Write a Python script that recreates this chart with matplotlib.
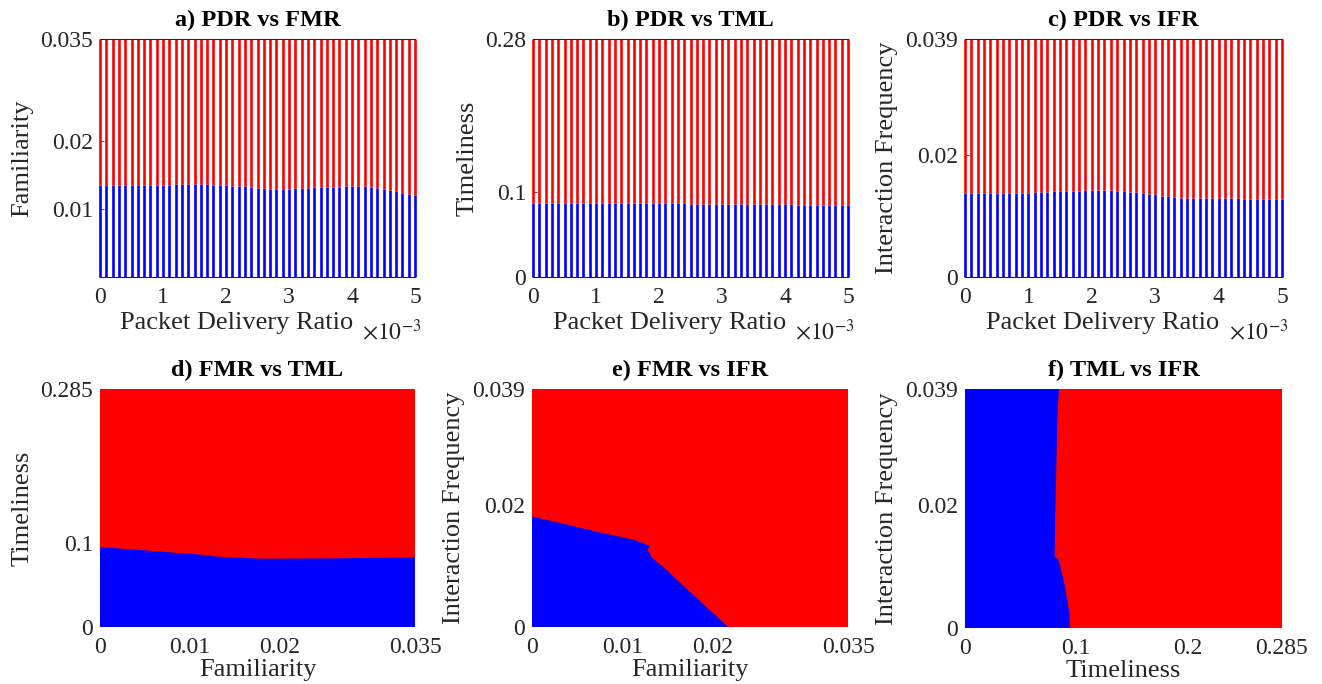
import numpy as np
import matplotlib.pyplot as plt
from matplotlib.ticker import FuncFormatter

plt.rcParams['font.family'] = ['Liberation Serif', 'DejaVu Serif']
plt.rcParams['mathtext.fontset'] = 'stix'

BLUE = '#0000ff'
RED = '#ff0000'
TXT = '#262626'

# --- top row: packet delivery ratio sweep (51 samples) ---
pdr = np.linspace(0, 0.005, 51)

fmr_bound = [0.01353] * 12 + [0.01368] * 6 + [
    0.01353, 0.01353, 0.01348, 0.01343, 0.01338, 0.01338, 0.01328, 0.01314,
    0.01309, 0.01294, 0.01294, 0.01294, 0.01294, 0.01309, 0.01309, 0.01309,
    0.01319, 0.01319, 0.01324, 0.01328, 0.01328, 0.01333, 0.01338, 0.01338,
    0.01338, 0.01319, 0.01309, 0.01289, 0.01279, 0.01260, 0.01240, 0.01225,
    0.01206]

tml_bound = [0.08764] * 8 + [0.08724] * 8 + [0.08685] * 9 + [0.08646] * 6 + \
    [0.08607] * 6 + [0.08568] * 5 + [0.08529] * 5 + [0.0849] * 4

ifr_bound = [0.01382] * 11 + [
    0.01393, 0.01393, 0.01393, 0.01404, 0.01410, 0.01410, 0.01410, 0.01415,
    0.01421, 0.01421, 0.01426, 0.01421, 0.01421, 0.01415, 0.01404, 0.01399,
    0.01399, 0.01382, 0.01366, 0.01360, 0.01333, 0.01327, 0.01305, 0.01295,
    0.01295, 0.01295, 0.01295, 0.01295, 0.01289, 0.01289, 0.01289, 0.01289,
    0.01289, 0.01284, 0.01284, 0.01284, 0.01284, 0.01284, 0.01284, 0.01284]

fmr_max = 0.035
tml_max = 0.28
ifr_max = 0.039

# --- bottom row: decision boundaries ---
d_x = [0, 0.01222, 0.01259, 0.01778, 0.01963, 0.02593, 0.035]
d_y = [0.0958, 0.0858, 0.0846, 0.0818, 0.0818, 0.0822, 0.0834]
d_xmax, d_ymax = 0.035, 0.285

e_x = [0, 0.00784, 0.0108, 0.01117, 0.01302, 0.01283, 0.0131, 0.01321, 0.0145, 0.02171]
e_y = [0.01812, 0.01539, 0.01445, 0.0144, 0.0133, 0.01264, 0.01181, 0.01143, 0.00989, 0]
e_xmax, e_ymax = 0.035, 0.039

f_x = [0.0845, 0.0830, 0.0812, 0.0806, 0.0839, 0.0854, 0.0899, 0.0938, 0.0944]
f_y = [0.039, 0.0340, 0.01877, 0.01168, 0.01115, 0.01033, 0.00679, 0.00245, 0]
f_xmax, f_ymax = 0.285, 0.039

fig = plt.figure(figsize=(13.22, 6.84), dpi=100)
W, H = 1322, 684


def make_ax(x0, y0, x1, y1):
    return fig.add_axes([x0 / W, 1 - y1 / H, (x1 - x0) / W, (y1 - y0) / H])


def style(ax, title, xlabel, ylabel):
    ax.set_title(title, fontsize=17.5, fontweight='bold', pad=9, color='black')
    ax.set_xlabel(xlabel, fontsize=19, color=TXT, labelpad=1)
    ax.set_ylabel(ylabel, fontsize=19, color=TXT, labelpad=5)
    ax.tick_params(labelsize=17, colors=TXT, direction='in', length=3, width=0.6)
    ax.tick_params(axis='x', pad=7)
    ax.tick_params(axis='y', pad=5)


def top_panel(ax, bound, ymax, yticks, ylabels, title, ylabel):
    bound = np.array(bound)
    ax.vlines(pdr, 0, bound, color=BLUE, lw=1.9, clip_on=False, zorder=3)
    ax.vlines(pdr, bound, ymax, color=RED, lw=1.9, clip_on=False, zorder=3)
    ax.set_xlim(0, 0.005)
    ax.set_ylim(0, ymax)
    ax.set_xticks([0, 0.001, 0.002, 0.003, 0.004, 0.005])
    ax.xaxis.set_major_formatter(FuncFormatter(lambda v, p: '%g' % round(v * 1000, 3)))
    ax.set_yticks(yticks)
    ax.set_yticklabels(ylabels)
    for side, s in ax.spines.items():
        s.set_color(TXT)
        s.set_linewidth(0.8)
        s.set_zorder(4)
        if side in ('left', 'right'):
            s.set_visible(False)
    style(ax, title, 'Packet Delivery Ratio', ylabel)
    ax.xaxis.set_label_coords(0.435, -0.145, transform=ax.transAxes)
    ax.xaxis.label.set_va('top')
    ax.text(1.02, -0.175, r'$\times10^{-3}$', transform=ax.transAxes, fontsize=17,
            color=TXT, ha='right', va='top')


def bottom_panel(ax, bx, by, xmax, ymax, xticks, xlabels, yticks, ylabels,
                 title, xlabel, ylabel, vertical=False):
    ax.set_facecolor(RED)
    if vertical:
        ax.fill(list(bx) + [0, 0], list(by) + [0, ymax], color=BLUE, lw=0)
    else:
        ax.fill(list(bx) + [bx[-1], 0], list(by) + [0, 0], color=BLUE, lw=0)
    ax.set_xlim(0, xmax)
    ax.set_ylim(0, ymax)
    ax.set_xticks(xticks)
    ax.set_xticklabels(xlabels)
    ax.set_yticks(yticks)
    ax.set_yticklabels(ylabels)
    for s in ax.spines.values():
        s.set_visible(False)
    style(ax, title, xlabel, ylabel)
    ax.tick_params(length=0)


ax_a = make_ax(100, 39, 415, 277)
top_panel(ax_a, fmr_bound, fmr_max, [0.01, 0.02, 0.035], ['0.01', '0.02', '0.035'],
          'a) PDR vs FMR', 'Familiarity')
ax_b = make_ax(533, 39, 848, 277)
top_panel(ax_b, tml_bound, tml_max, [0, 0.1, 0.28], ['0', '0.1', '0.28'],
          'b) PDR vs TML', 'Timeliness')
ax_c = make_ax(965, 39, 1282, 277)
top_panel(ax_c, ifr_bound, ifr_max, [0, 0.02, 0.039], ['0', '0.02', '0.039'],
          'c) PDR vs IFR', 'Interaction Frequency')

ax_d = make_ax(100, 389, 415, 627)
bottom_panel(ax_d, d_x, d_y, d_xmax, d_ymax, [0, 0.01, 0.02, 0.035],
             ['0', '0.01', '0.02', '0.035'], [0, 0.1, 0.285], ['0', '0.1', '0.285'],
             'd) FMR vs TML', 'Familiarity', 'Timeliness')
ax_e = make_ax(532, 389, 848, 627)
bottom_panel(ax_e, e_x, e_y, e_xmax, e_ymax, [0, 0.01, 0.02, 0.035],
             ['0', '0.01', '0.02', '0.035'], [0, 0.02, 0.039], ['0', '0.02', '0.039'],
             'e) FMR vs IFR', 'Familiarity', 'Interaction Frequency')
ax_f = make_ax(965, 389, 1282, 628)
bottom_panel(ax_f, f_x, f_y, f_xmax, f_ymax, [0, 0.1, 0.2, 0.285],
             ['0', '0.1', '0.2', '0.285'], [0, 0.02, 0.039], ['0', '0.02', '0.039'],
             'f) TML vs IFR', 'Timeliness', 'Interaction Frequency', vertical=True)

fig.savefig('out.png', dpi=100)
